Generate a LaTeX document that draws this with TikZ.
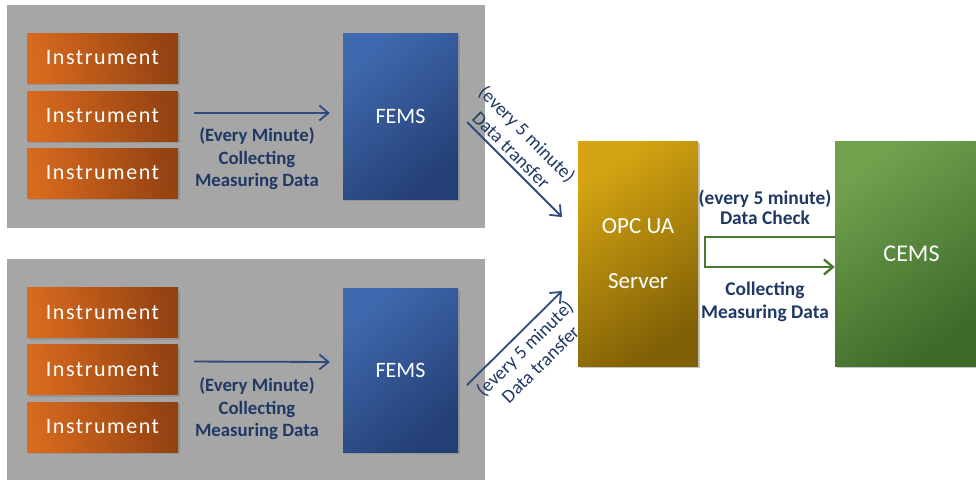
\documentclass[tikz,border=0pt]{standalone}
\usepackage{fontspec}
\setmainfont{Carlito}
\newfontfamily\spacedfont[LetterSpace=7]{Carlito}
\usetikzlibrary{arrows.meta,shadows}

\definecolor{panelgray}{HTML}{A6A6A6}
\definecolor{instlight}{HTML}{D86A1E}
\definecolor{instdark}{HTML}{934212}
\definecolor{femslight}{HTML}{3F69AE}
\definecolor{femsdark}{HTML}{243F75}
\definecolor{opclight}{HTML}{D4A412}
\definecolor{opcdark}{HTML}{806006}
\definecolor{cemslight}{HTML}{70A24E}
\definecolor{cemsdark}{HTML}{3E6A29}
\definecolor{labelnavy}{HTML}{1F3864}
\definecolor{arrowblue}{HTML}{2E4B7D}
\definecolor{arrowgreen}{HTML}{4C7A2C}

\tikzset{
  panel/.style={rectangle, fill=panelgray, inner sep=0pt},
  box/.style={rectangle, inner sep=0pt, text=white,
    drop shadow={shadow xshift=2pt, shadow yshift=-2pt, opacity=0.45}},
  inst/.style={box, left color=instlight, right color=instdark, shading angle=100,
    minimum width=151pt, minimum height=50pt, font=\spacedfont\fontsize{22}{24}\selectfont},
  fems/.style={box, top color=femslight, bottom color=femsdark, shading angle=40,
    minimum width=115pt, font=\fontsize{22}{24}\selectfont},
  bigbox/.style={box, minimum height=225pt, align=center},
  steplabel/.style={text=labelnavy, font=\bfseries\fontsize{18.8}{22.5}\selectfont, align=center},
  translabel/.style={text=labelnavy, font=\fontsize{19}{22.5}\selectfont, align=center, inner sep=4pt},
  flowline/.style={draw=arrowblue, line width=1.8pt},
  gflow/.style={draw=arrowgreen, line width=2.4pt, -{Straight Barb[length=9pt,width=15pt]}}
}

\begin{document}
\begin{tikzpicture}[x=1pt,y=-1pt]
  \useasboundingbox (0,0) rectangle (976,480);

  % grey panels
  \node[panel, minimum width=478pt, minimum height=223pt] (panel1) at (246,116.5) {};
  \node[panel, minimum width=478pt, minimum height=221pt] (panel2) at (246,369.5) {};

  % upper plant
  \node[inst] (i11) at (102.5,58) {Instrument};
  \node[inst] (i12) at (102.5,116) {Instrument};
  \node[inst] (i13) at (102.5,173) {Instrument};
  \node[fems, minimum height=166pt] (fems1) at (400.5,116) {FEMS};
  \node[steplabel] (lab1) at (257,159) {(Every Minute)\\Collecting\\Measuring Data};

  % lower plant
  \node[inst] (i21) at (102.5,312.5) {Instrument};
  \node[inst] (i22) at (102.5,369.5) {Instrument};
  \node[inst] (i23) at (102.5,427) {Instrument};
  \node[fems, minimum height=164pt] (fems2) at (400.5,370) {FEMS};
  \node[steplabel] (lab2) at (257,409) {(Every Minute)\\Collecting\\Measuring Data};

  % server and CEMS
  \node[bigbox, minimum width=120pt, top color=opclight, bottom color=opcdark, shading angle=35,
    font=\fontsize{23}{27}\selectfont] (opc) at (638,253.5) {OPC UA\\[28pt]Server};
  \node[bigbox, minimum width=141pt, top color=cemslight, bottom color=cemsdark, shading angle=35,
    font=\fontsize{24}{27}\selectfont] (cems) at (905.5,253.5) {\hspace{12pt}CEMS};
  \node[steplabel, font=\bfseries\fontsize{19.4}{19.5}\selectfont] (lab3) at (765,207.5) {(every 5 minute)\\Data Check};
  \node[steplabel, font=\bfseries\fontsize{19.4}{23}\selectfont] (lab4) at (765,301.5) {Collecting\\Measuring Data};

  \coordinate (d1a) at (467,122);
  \coordinate (d1b) at (562,217);
  \coordinate (d2a) at (467,385);
  \coordinate (d2b) at (562,291);

  \path[-{Straight Barb[length=9pt,width=15pt]}]
  ([yshift=3pt]i12.east) edge[flowline, shorten <=16pt, shorten >=13pt] ([yshift=3pt]fems1.west)
  ([yshift=8pt]i22.east) edge[flowline, shorten <=16pt, shorten >=13pt] ([yshift=8pt]fems2.west)
  (d1a) edge[flowline] node[translabel, sloped, above, pos=0.38] {(every 5 minute)\\Data transfer} (d1b)
  (d2a) edge[flowline] node[translabel, sloped, below=2pt, pos=0.5] {(every 5 minute)\\Data transfer} (d2b);

  \draw[gflow] ([yshift=16.5pt]cems.west) -- ++(-130,0) -- ++(0,30) -- ([yshift=-13.5pt]cems.west);
\end{tikzpicture}
\end{document}
